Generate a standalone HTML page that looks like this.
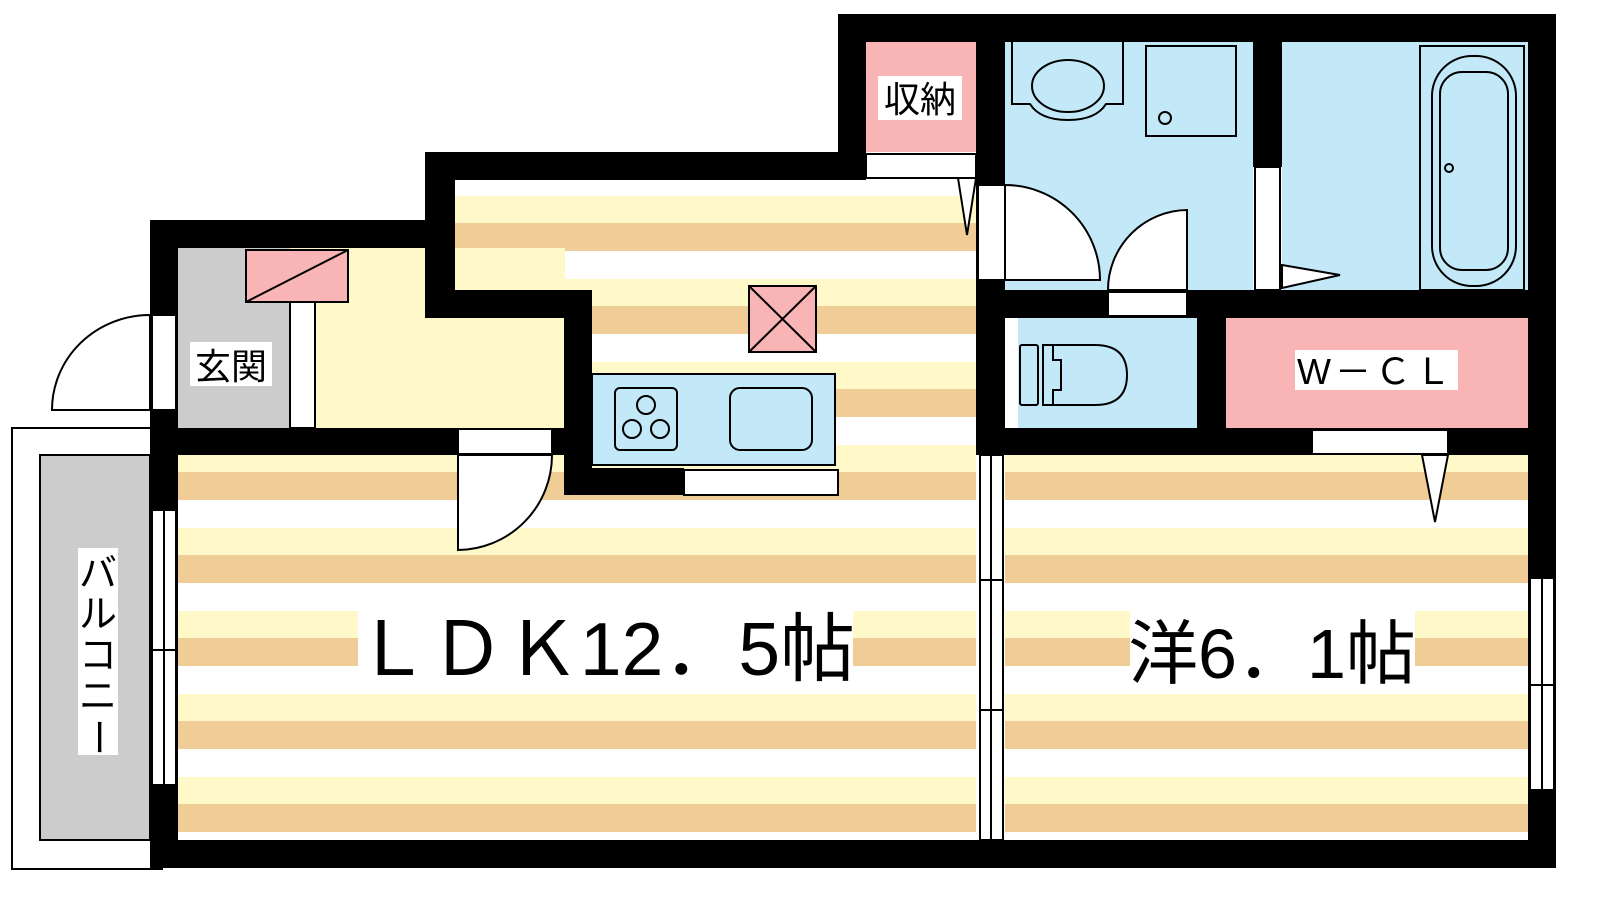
<!DOCTYPE html>
<html><head><meta charset="utf-8"><style>html,body{margin:0;padding:0;background:#fff}svg{display:block}text{font-family:"Liberation Sans","Noto Sans CJK JP",sans-serif}</style></head><body>
<svg width="1600" height="900" viewBox="0 0 1600 900" xmlns="http://www.w3.org/2000/svg">
<defs>
<pattern id="st" x="0" y="170" width="10" height="83" patternUnits="userSpaceOnUse">
<rect width="10" height="83" fill="#fff"/>
<rect y="26" width="10" height="27" fill="#fff9c9"/>
<rect y="53" width="10" height="28" fill="#f0cc96"/>
</pattern>
</defs>
<rect x="455" y="180" width="521" height="660" fill="url(#st)"/>
<rect x="178" y="455" width="400" height="385" fill="url(#st)"/>
<rect x="1005" y="455" width="523" height="385" fill="url(#st)"/>
<rect x="178" y="248" width="112" height="180" fill="#cccccc"/>
<rect x="290" y="248" width="275" height="180" fill="#fff9c9"/>
<rect x="290" y="302" width="25" height="126" fill="#fff" stroke="#000" stroke-width="2"/>
<rect x="246" y="250" width="102" height="52" fill="#f9b5b5" stroke="#000" stroke-width="2"/>
<line x1="246" y1="302" x2="348" y2="250" stroke="#000" stroke-width="2"/>
<rect x="866" y="42" width="110" height="110" fill="#f9b5b5"/>
<rect x="1005" y="42" width="248" height="248" fill="#c3e9f9"/>
<rect x="1282" y="42" width="246" height="248" fill="#c3e9f9"/>
<rect x="1018" y="318" width="179" height="110" fill="#c3e9f9"/>
<rect x="1226" y="318" width="302" height="110" fill="#f9b5b5"/>
<rect x="12" y="428" width="150" height="441" fill="#fff" stroke="#000" stroke-width="2"/>
<rect x="40" y="455" width="110" height="385" fill="#cccccc" stroke="#000" stroke-width="2"/>
<g fill="#000">
<rect x="838" y="14" width="718" height="28"/>
<rect x="838" y="14" width="28" height="166"/>
<rect x="425" y="152" width="441" height="28"/>
<rect x="425" y="152" width="30" height="166"/>
<rect x="425" y="290" width="167" height="28"/>
<rect x="150" y="220" width="305" height="28"/>
<rect x="150" y="220" width="28" height="648"/>
<rect x="150" y="840" width="1406" height="28"/>
<rect x="1528" y="14" width="28" height="854"/>
<rect x="150" y="428" width="308" height="27"/>
<rect x="552" y="428" width="40" height="27"/>
<rect x="564" y="290" width="28" height="205"/>
<rect x="564" y="468" width="120" height="27"/>
<rect x="976" y="42" width="29" height="413"/>
<rect x="1253" y="42" width="29" height="125"/>
<rect x="976" y="290" width="552" height="28"/>
<rect x="1197" y="318" width="29" height="110"/>
<rect x="976" y="428" width="552" height="27"/>
</g>
<g fill="#fff" stroke="#000" stroke-width="2">
<rect x="458" y="429" width="94" height="25"/>
<rect x="684" y="470" width="154" height="25"/>
<rect x="866" y="154" width="110" height="24"/>
<rect x="978" y="185" width="27" height="95"/>
<rect x="1255" y="167" width="25" height="123"/>
<rect x="1108" y="292" width="79" height="24"/>
<rect x="1312" y="430" width="136" height="24"/>
<rect x="980" y="455" width="23" height="385"/>
<rect x="152" y="315" width="24" height="95"/>
<rect x="152" y="510" width="24" height="275"/>
<rect x="1530" y="578" width="24" height="212"/>
</g>
<g stroke="#000" stroke-width="2" fill="none">
<line x1="991" y1="455" x2="991" y2="840"/>
<line x1="164" y1="510" x2="164" y2="785"/>
<line x1="1542" y1="578" x2="1542" y2="790"/>
<line x1="980" y1="580" x2="1003" y2="580"/><line x1="980" y1="710" x2="1003" y2="710"/>
<line x1="152" y1="650" x2="176" y2="650"/><line x1="1530" y1="685" x2="1554" y2="685"/>
</g>
<g stroke="#000" stroke-width="2" fill="#fff">
<path d="M458 455 L458 550 A95 95 0 0 0 552 455 Z"/>
<path d="M150 410 L52 410 A98 95 0 0 1 150 315 Z"/>
<path d="M1005 185 L1005 280 L1100 280 A95 95 0 0 0 1005 185 Z"/>
<path d="M1187 290 L1187 210 A80 80 0 0 0 1108 290 Z"/>
<path d="M958 178 L967 235 L976 178 Z"/>
<path d="M1282 265 L1340 275 L1282 288 Z"/>
<path d="M1422 455 L1435 522 L1448 455 Z"/>
</g>
<rect x="592" y="374" width="243" height="91" fill="#c3e9f9" stroke="#000" stroke-width="2"/>
<rect x="615" y="388" width="62" height="62" rx="5" fill="none" stroke="#000" stroke-width="2"/>
<g fill="none" stroke="#000" stroke-width="2"><circle cx="646" cy="405" r="9"/><circle cx="632" cy="429" r="9"/><circle cx="660" cy="429" r="9"/></g>
<rect x="730" y="388" width="82" height="62" rx="10" fill="none" stroke="#000" stroke-width="2"/>
<rect x="749" y="286" width="67" height="66" fill="#f9b5b5" stroke="#000" stroke-width="2"/>
<path d="M749 286 L816 352 M816 286 L749 352" stroke="#000" stroke-width="2"/>
<g fill="none" stroke="#000" stroke-width="2">
<path d="M1012 42 V104 H1030 Q1040 120 1068 120 Q1096 120 1106 104 H1123 V42"/>
<ellipse cx="1068" cy="86" rx="36" ry="26"/>
<rect x="1146" y="46" width="90" height="90"/>
<circle cx="1165" cy="118" r="6"/>
<rect x="1420" y="46" width="104" height="244"/>
<rect x="1432" y="56" width="84" height="230" rx="40"/>
<rect x="1440" y="72" width="68" height="198" rx="22"/>
<circle cx="1449" cy="168" r="4"/>
<rect x="1020" y="345" width="18" height="60" rx="2"/>
<path d="M1043 345 H1095 Q1127 345 1127 375 Q1127 405 1095 405 H1043 Z"/>
<path d="M1053 345 V360 H1061 V390 H1053 V405"/>
</g>
<rect x="358" y="600" width="495" height="90" fill="#fff"/>
<text x="605" y="675" font-size="75" text-anchor="middle">ＬＤＫ12．5帖</text>
<rect x="1130" y="605" width="285" height="85" fill="#fff"/>
<text x="1272" y="678" font-size="70" text-anchor="middle">洋6．1帖</text>
<rect x="190" y="342" width="82" height="44" fill="#fff"/>
<text x="231" y="379" font-size="36" text-anchor="middle">玄関</text>
<rect x="878" y="76" width="84" height="44" fill="#fff"/>
<text x="920" y="112" font-size="36" text-anchor="middle">収納</text>
<rect x="1295" y="350" width="163" height="40" fill="#fff"/>
<text x="1376" y="384" font-size="36" text-anchor="middle" letter-spacing="4">W－ＣＬ</text>
<rect x="78" y="548" width="40" height="207" fill="#fff"/>
<g font-size="38" text-anchor="middle">
<text x="98" y="586">バ</text>
<text x="98" y="627">ル</text>
<text x="98" y="668">コ</text>
<text x="98" y="709">ニ</text>
<text x="98" y="750" transform="rotate(90 98 737)">ー</text>
</g>
</svg>
</body></html>
